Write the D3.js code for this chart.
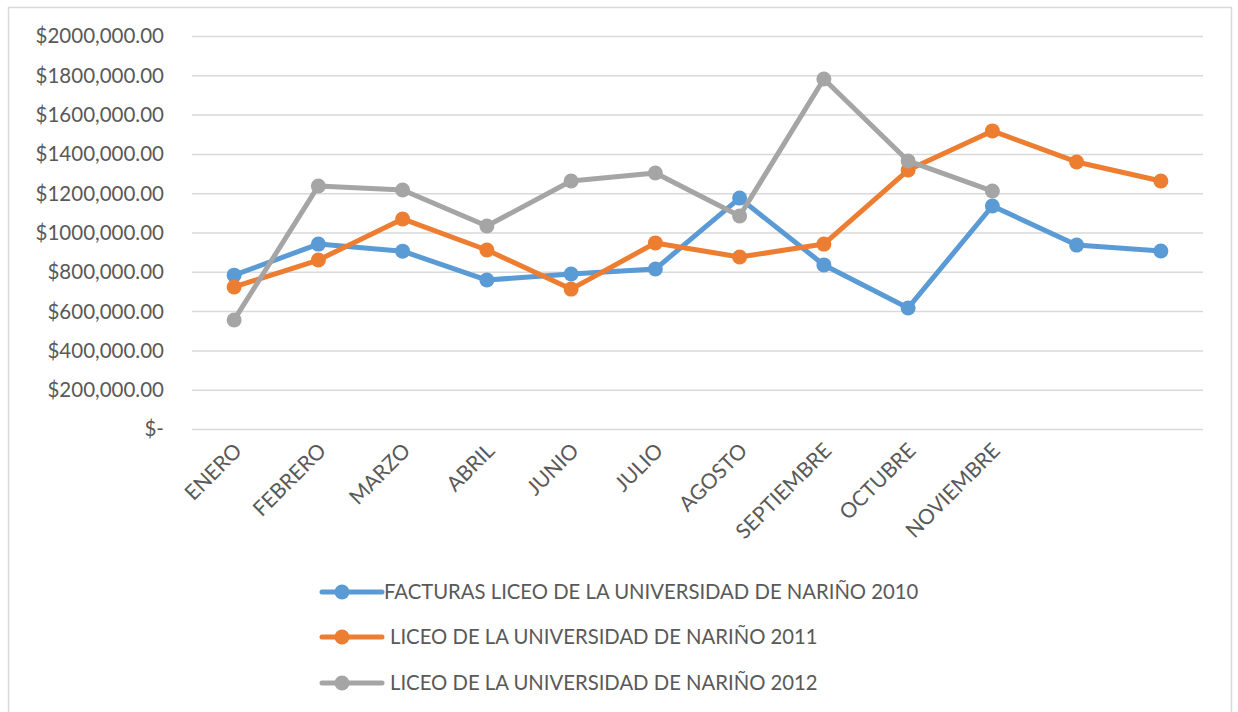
<!DOCTYPE html>
<html>
<head>
<meta charset="utf-8">
<script src="https://cdn.jsdelivr.net/npm/d3@7"></script>
<style>
  body { margin: 0; background: #fff; }
  svg text { font-family: Lato, "Open Sans", sans-serif; fill: #595959; }
</style>
</head>
<body>
<svg id="chart"></svg>
<script>
// chart data
let months = ["ENERO", "FEBRERO", "MARZO", "ABRIL", "JUNIO", "JULIO", "AGOSTO", "SEPTIEMBRE", "OCTUBRE", "NOVIEMBRE", "", " "]
let seriesNames = [
    "FACTURAS LICEO DE LA UNIVERSIDAD DE NARIÑO 2010",
    "LICEO DE LA UNIVERSIDAD DE NARIÑO 2011",
    "LICEO DE LA UNIVERSIDAD DE NARIÑO 2012"
]
let values2010 = [783000, 941000, 905000, 758000, 789000, 814000, 1175000, 835000, 616000, 1135000, 936000, 906000]
let values2011 = [723000, 860000, 1069000, 911000, 712000, 947000, 875000, 941000, 1318000, 1517000, 1359000, 1262000]
let values2012 = [555000, 1237000, 1216000, 1033000, 1262000, 1303000, 1084000, 1781000, 1364000, 1211000, null, null]
let yTicks = [0, 200000, 400000, 600000, 800000, 1000000, 1200000, 1400000, 1600000, 1800000, 2000000]
let colors = ["#5b9bd5", "#ed7d31", "#a5a5a5"]

let width = 1238
let height = 712

let svg = d3.select("#chart")
    .attr("width", width)
    .attr("height", height)

// outer border
svg.append("rect")
    .attr("x", 8.5)
    .attr("y", 7.5)
    .attr("width", 1223)
    .attr("height", 720)
    .attr("fill", "none")
    .attr("stroke", "#d9d9d9")
    .attr("stroke-width", 1.5)

let xScale = d3.scaleBand()
    .domain(months)
    .range([192, 1203])

let yScale = d3.scaleLinear()
    .domain([0, 2000000])
    .range([429, 36])

let fmt = (v) => {
    if (v === 0) return "$-"
    return "$" + Math.floor(v / 1000) + "," + "000.00"
}

// gridlines + y labels
let yAxis = d3.axisLeft(yScale)
    .tickValues(yTicks)
    .tickSize(-(1203 - 192))
    .tickPadding(28)
    .tickFormat(fmt)

let yG = svg.append("g")
    .attr("transform", "translate(192,0)")
    .call(yAxis)
yG.select(".domain").remove()
yG.selectAll(".tick line")
    .attr("stroke", "#d9d9d9")
    .attr("stroke-width", 1.5)
yG.selectAll(".tick text")
    .attr("font-size", 20.5)
    .style("fill", "#595959")
    .attr("dy", "0.34em")

// x axis labels
let xAxis = d3.axisBottom(xScale)
    .tickSize(0)
    .tickPadding(0)

let xG = svg.append("g")
    .attr("transform", "translate(0,429)")
    .call(xAxis)
xG.select(".domain").remove()
xG.selectAll(".tick text")
    .attr("font-size", 21)
    .style("fill", "#595959")
    .attr("text-anchor", "end")
    .attr("x", 0)
    .attr("y", 0)
    .attr("dy", 0)
    .attr("transform", "translate(9,23) rotate(-45)")

// series
let allSeries = [values2010, values2011, values2012]

let line = d3.line()
    .defined((d) => d !== null)
    .x((d, i) => xScale(months[i]) + xScale.bandwidth() / 2)
    .y((d) => yScale(d))

allSeries.forEach((vals, s) => {
    svg.append("path")
        .datum(vals)
        .attr("fill", "none")
        .attr("stroke", colors[s])
        .attr("stroke-width", 5)
        .attr("stroke-linejoin", "round")
        .attr("d", line)

    svg.append("g")
        .selectAll("circle")
        .data(vals.map((v, i) => ({ v: v, i: i })).filter((d) => d.v !== null))
        .enter()
        .append("circle")
        .attr("cx", (d) => xScale(months[d.i]) + xScale.bandwidth() / 2)
        .attr("cy", (d) => yScale(d.v))
        .attr("r", 7.5)
        .attr("fill", colors[s])
})

// legend
let legend = svg.append("g")
let legendY = [592, 637, 683]
seriesNames.forEach((name, s) => {
    let g = legend.append("g")
        .attr("transform", "translate(0," + legendY[s] + ")")
    g.append("line")
        .attr("x1", 322)
        .attr("x2", 382)
        .attr("y1", 0)
        .attr("y2", 0)
        .attr("stroke", colors[s])
        .attr("stroke-width", 5)
        .attr("stroke-linecap", "round")
    g.append("circle")
        .attr("cx", 342)
        .attr("cy", 0)
        .attr("r", 7.5)
        .attr("fill", colors[s])
    g.append("text")
        .attr("x", s === 0 ? 384 : 390)
        .attr("y", 0)
        .attr("dy", "0.35em")
        .attr("font-size", 20.3)
        .text(name)
})
</script>
</body>
</html>
